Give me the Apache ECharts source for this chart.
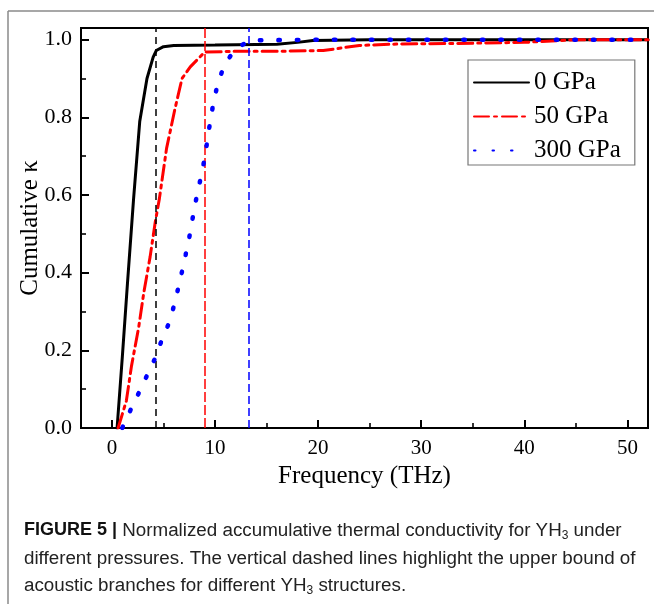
<!DOCTYPE html>
<html><head><meta charset="utf-8">
<script src="https://cdn.jsdelivr.net/npm/echarts@6/dist/echarts.min.js"></script>
<style>html,body{margin:0;padding:0;background:#fff}#c{width:654px;height:604px}</style>
</head><body><div id="c"></div>
<script>
// ---- data ----
const seriesNames = ['0 GPa', '50 GPa', '300 GPa'];
const freq0 = [0.5, 1.0, 1.5, 2.1, 2.7, 3.4, 4.0, 4.3, 5.0, 6.0, 10, 16, 18, 19.5, 25, 52];
const kappa0 = [0, 0.18, 0.37, 0.59, 0.79, 0.90, 0.955, 0.972, 0.982, 0.985, 0.986, 0.988, 0.993, 0.998, 1.0, 1.0];
const freq50 = [0.6, 1.4, 1.9, 2.6, 3.1, 3.7, 4.2, 4.6, 5.3, 6.1, 6.8, 7.6, 9.0, 12, 16, 20.5, 24, 28, 33, 40, 45, 52];
const kappa50 = [0, 0.07, 0.16, 0.26, 0.35, 0.44, 0.53, 0.59, 0.72, 0.82, 0.90, 0.93, 0.968, 0.97, 0.97, 0.972, 0.985, 0.989, 0.99, 0.993, 1.0, 1.0];
const freq300 = [1.0, 1.8, 2.6, 3.4, 4.2, 4.8, 5.5, 6.0, 6.4, 6.8, 7.15, 7.5, 7.8, 8.1, 8.45, 8.8, 9.1, 9.35, 9.6, 9.9, 10.3, 10.9, 12.0, 13.5, 20, 52];
const kappa300 = [0, 0.046, 0.09, 0.135, 0.18, 0.224, 0.268, 0.313, 0.357, 0.403, 0.446, 0.49, 0.536, 0.58, 0.624, 0.667, 0.712, 0.758, 0.80, 0.845, 0.89, 0.934, 0.978, 0.998, 1.0, 1.0];
const acousticBounds = [4.24, 8.96, 13.3];
const xTicks = [0, 10, 20, 30, 40, 50];
const xMinorTicks = [5, 15, 25, 35, 45];
const yTicks = [0, 0.2, 0.4, 0.6, 0.8, 1.0];
const yMinorTicks = [0.1, 0.3, 0.5, 0.7, 0.9];

// ---- styles ----
const serif = 'Liberation Serif';
const colors = ['#000000', '#ff0000', '#0000ff'];
const lineDash = ['solid', [15, 5, 3, 5], [1.5, 17]];
const lineWidth = [3, 3, 4.5];
const vDash = [[7, 5], [10, 3], [8, 4]];

const pairs = (xs, ys) => xs.map((x, i) => [x, ys[i]]);
const dataSets = [pairs(freq0, kappa0), pairs(freq50, kappa50), pairs(freq300, kappa300)];

const chart = echarts.init(document.getElementById('c'));
const XMIN = -3, XMAX = 52, YMIN = 0, YMAX = 1.03;

chart.setOption({
  animation: false,
  backgroundColor: '#fff',
  grid: {left: 81, right: 6, top: 28, bottom: 176, show: true, borderColor: '#000', borderWidth: 2, backgroundColor: 'transparent'},
  legend: {
    left: 468, top: 60, orient: 'vertical',
    padding: [10, 14, 2, 5], itemGap: 9, itemWidth: 55, itemHeight: 14,
    borderColor: '#777', borderWidth: 1.2,
    itemStyle: {color: 'transparent', borderColor: 'transparent', borderWidth: 0},
    textStyle: {fontFamily: serif, fontSize: 25, color: '#000'},
    data: seriesNames
  },
  xAxis: [{
    type: 'value', min: XMIN, max: XMAX,
    axisLine: {onZero: false, lineStyle: {color: '#000', width: 2}},
    axisTick: {inside: true, length: 8, customValues: xTicks, lineStyle: {color: '#000', width: 2}},
    axisLabel: {customValues: xTicks, fontFamily: serif, fontSize: 21, color: '#000', margin: 10},
    splitLine: {show: false},
    name: 'Frequency (THz)', nameLocation: 'middle', nameGap: 35,
    nameTextStyle: {fontFamily: serif, fontSize: 25, color: '#000'}
  }, {
    type: 'value', min: XMIN, max: XMAX, position: 'bottom', gridIndex: 0,
    axisLine: {show: false, onZero: false},
    axisTick: {inside: true, length: 5, customValues: xMinorTicks, lineStyle: {color: '#000', width: 1.6}},
    axisLabel: {show: false}, splitLine: {show: false}
  }],
  yAxis: [{
    type: 'value', min: YMIN, max: YMAX,
    axisLine: {show: true, onZero: false, lineStyle: {color: '#000', width: 2}},
    axisTick: {show: true, inside: true, length: 8, customValues: yTicks, lineStyle: {color: '#000', width: 2}},
    axisLabel: {customValues: yTicks, fontFamily: serif, fontSize: 22, color: '#000', margin: 9, formatter: v => v.toFixed(1)},
    splitLine: {show: false},
    name: 'Cumulative κ', nameLocation: 'middle', nameGap: 38, nameRotate: 90, nameMoveOverlap: false,
    nameTextStyle: {fontFamily: serif, fontSize: 25, color: '#000'}
  }, {
    type: 'value', min: YMIN, max: YMAX, position: 'left', offset: 0,
    axisLine: {show: false, onZero: false},
    axisTick: {show: true, inside: true, length: 5, customValues: yMinorTicks, lineStyle: {color: '#000', width: 1.6}},
    axisLabel: {show: false}, splitLine: {show: false}
  }],
  series: seriesNames.map((name, i) => ({
    name, type: 'line', data: dataSets[i], symbol: 'none', xAxisIndex: 0, yAxisIndex: 0,
    z: 3 + i,
    lineStyle: {color: colors[i], width: lineWidth[i], type: lineDash[i], cap: 'round'},
    itemStyle: {color: colors[i]},
    markLine: {
      silent: true, symbol: 'none', label: {show: false},
      lineStyle: {color: colors[i], width: 1.5, type: vDash[i]},
      data: [{xAxis: acousticBounds[i]}]
    }
  })),
  graphic: [
    {type: 'line', shape: {x1: 8, y1: 11, x2: 654, y2: 11}, style: {stroke: '#8a8a8a', lineWidth: 1.5}},
    {type: 'line', shape: {x1: 8, y1: 11, x2: 8, y2: 604}, style: {stroke: '#8a8a8a', lineWidth: 1.5}},
    {type: 'text', left: 24, top: 521, style: {
      text: '{b|FIGURE 5 |}{n| Normalized accumulative thermal conductivity for YH}{s|3}{n| under}',
      rich: {
        b: {fontFamily: 'Liberation Sans', fontWeight: 'bold', fontSize: 18, fill: '#111', lineHeight: 22},
        n: {fontFamily: 'Liberation Sans', fontSize: 18.8, fill: '#222', lineHeight: 22},
        s: {fontFamily: 'Liberation Sans', fontSize: 12, fill: '#222', lineHeight: 22, verticalAlign: 'bottom', padding: [8, 0, 0, 0]}
      }
    }},
    {type: 'text', left: 24, top: 549, style: {
      text: '{n|different pressures. The vertical dashed lines highlight the upper bound of}',
      rich: {n: {fontFamily: 'Liberation Sans', fontSize: 18.8, fill: '#222', lineHeight: 22}}
    }},
    {type: 'text', left: 24, top: 576, style: {
      text: '{n|acoustic branches for different YH}{s|3}{n| structures.}',
      rich: {
        n: {fontFamily: 'Liberation Sans', fontSize: 18.8, fill: '#222', lineHeight: 22},
        s: {fontFamily: 'Liberation Sans', fontSize: 12, fill: '#222', lineHeight: 22, verticalAlign: 'bottom', padding: [8, 0, 0, 0]}
      }
    }}
  ]
});
</script>
</body></html>
